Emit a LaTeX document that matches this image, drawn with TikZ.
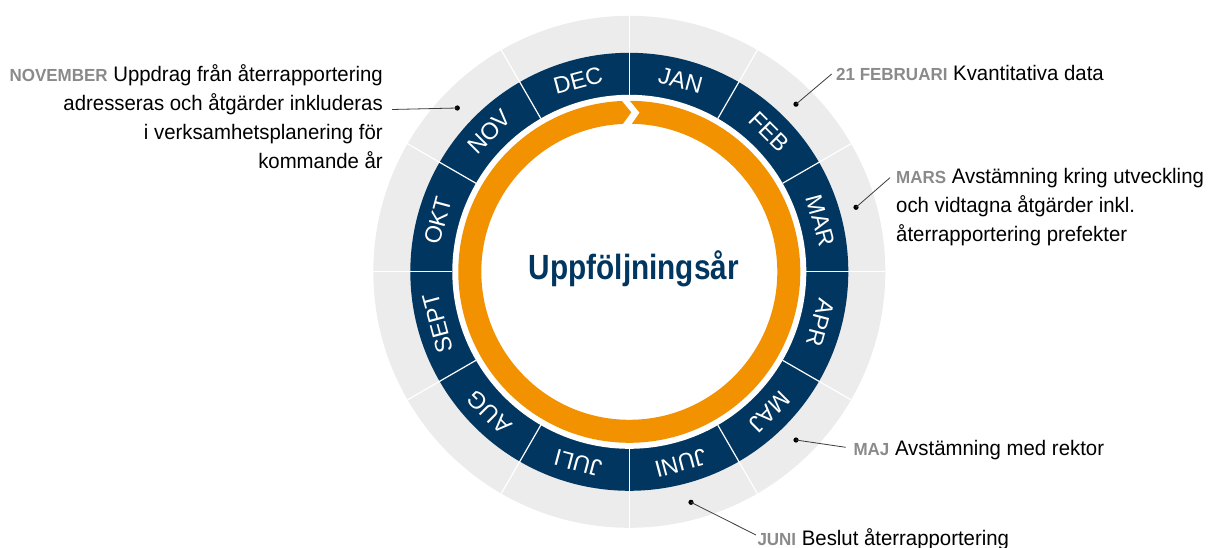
\documentclass[tikz,border=0pt]{standalone}
\usepackage{fontspec}
\setmainfont{Liberation Sans}
\newfontfamily\labelfont{Liberation Sans}[FakeStretch=0.97]
\newfontfamily\headfont{Liberation Sans}[FakeStretch=0.85]
\usetikzlibrary{calc}
\definecolor{ringgrey}{RGB}{236,236,236}
\definecolor{navy}{RGB}{0,54,96}
\definecolor{amber}{RGB}{242,146,0}
\definecolor{keygrey}{RGB}{138,138,138}
\definecolor{leader}{RGB}{60,60,60}
\newcommand\mkey[1]{{\bfseries\fontsize{17.5}{20}\selectfont\color{keygrey}#1}}
\begin{document}
\begin{tikzpicture}[x=1pt,y=1pt,
  callout/.style={font=\labelfont\fontsize{21}{29.1}\selectfont, inner sep=0pt, text=black},
  leaderline/.style={draw=leader, line width=0.8pt},
  pin dot/.style={circle, fill=black, inner sep=0pt, minimum size=5.2pt},
  month/.style={text=white, font=\fontsize{23.5}{26}\selectfont, inner sep=0pt},
  divider/.style={draw=white, line width=1.2pt}]
\useasboundingbox (0,0) rectangle (1212,547);
\coordinate (O) at (629.3,275.2);

% rings
\fill[ringgrey] (O) circle (256);
\fill[navy] (O) circle (219);
\fill[white] (O) circle (177);
\foreach \a in {0,30,...,330}
  \draw[divider, shift={(O)}] (\a:177) -- (\a:256);

% circular arrow
\fill[amber, shift={(O)}]
  (89.8:171) arc[start angle=89.8, end angle=-267.5, radius=171]
  -- (-270.7:159.5) -- (-267.5:148)
  arc[start angle=-267.5, end angle=89.0, radius=148]
  -- (86.3:159.5) -- cycle;

% month labels, read clockwise
\foreach \m [count=\i from 0] in {JAN,FEB,MAR,APR,MAJ,JUNI,JULI,AUG,SEPT,OKT,NOV,DEC} {
  \pgfmathsetmacro\ang{75-30*\i}
  \node[month, rotate=\ang-90] (\m) at ($(O)+(\ang:198)$) {\m};
}

\node[font=\headfont\bfseries\fontsize{35}{40}\selectfont, text=navy, anchor=base, inner sep=0pt] (title) at (633.8,267.7) {Uppföljningsår};

% November (base anchor sits on the last line)
\node[pin dot] (dnov) at (457.3,439) {};
\coordinate (enov) at (392,437.5);
\draw[leaderline] (dnov.center) -- (enov);
\node[callout, align=right, anchor=base east] (tnov) at (383,378)
  {\mkey{NOVEMBER} Uppdrag från återrapportering\\adresseras och åtgärder inkluderas\\i verksamhetsplanering för\\kommande år};

% February
\node[pin dot] (dfeb) at (796,442.8) {};
\coordinate (efeb) at (831.7,473);
\draw[leaderline] (dfeb.center) -- (efeb);
\node[callout, anchor=base west] (tfeb) at (836,466.3) {\mkey{21 FEBRUARI} Kvantitativa data};

% March
\node[pin dot] (dmar) at (856,339.7) {};
\coordinate (emar) at (890,369.3);
\draw[leaderline] (dmar.center) -- (emar);
\node[callout, align=left, anchor=base west] (tmar) at (896,305.5)
  {\mkey{MARS} Avstämning kring utveckling\\och vidtagna åtgärder inkl.\\återrapportering prefekter};

% May
\node[pin dot] (dmaj) at (796,107) {};
\coordinate (emaj) at (845.7,99.7);
\draw[leaderline] (dmaj.center) -- (emaj);
\node[callout, anchor=base west] (tmaj) at (853.3,91.3) {\mkey{MAJ} Avstämning med rektor};

% June
\node[pin dot] (djun) at (691,44.7) {};
\coordinate (ejun) at (756,12);
\draw[leaderline] (djun.center) -- (ejun);
\node[callout, anchor=base west] (tjun) at (757.3,2) {\mkey{JUNI} Beslut återrapportering};
\end{tikzpicture}
\end{document}
